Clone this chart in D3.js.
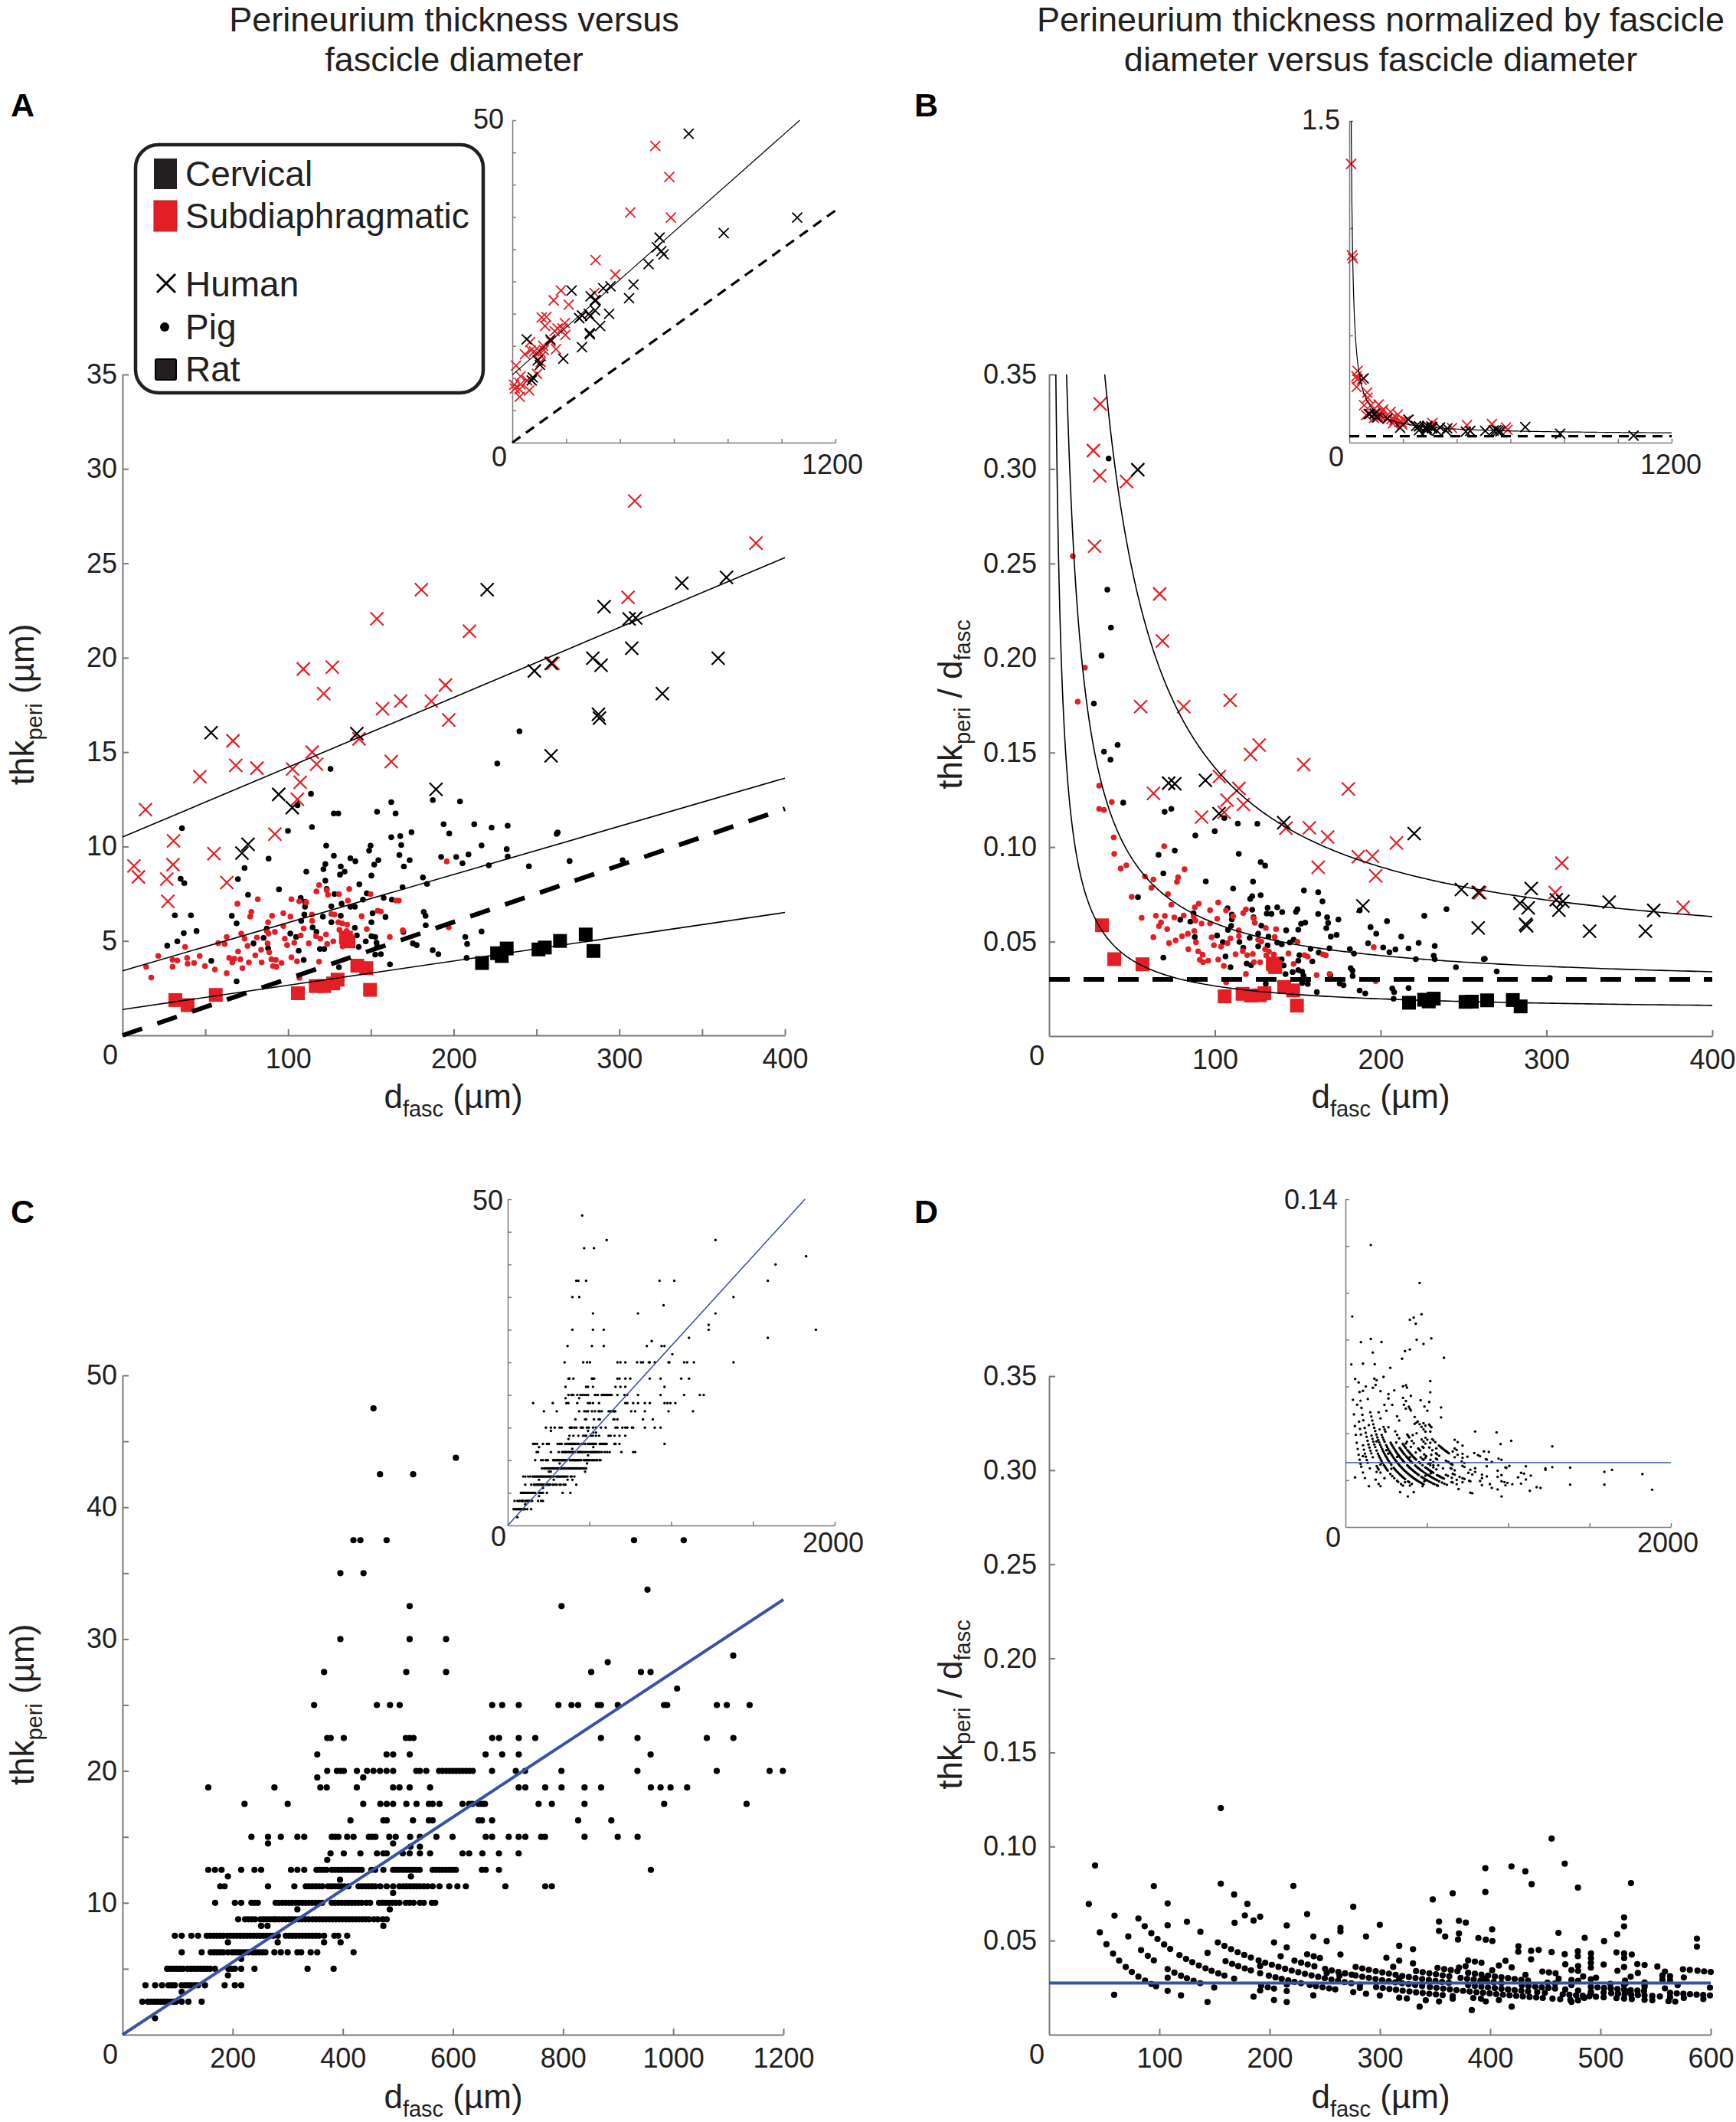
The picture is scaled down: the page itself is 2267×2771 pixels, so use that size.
<!DOCTYPE html>
<html><head><meta charset="utf-8">
<script src="https://cdn.jsdelivr.net/npm/d3@7"></script>
<style>body{margin:0;background:#fff}svg{display:block}</style>
</head><body>
<script>
// ---------------- DATA ----------------
// Panels A/B: [d_fasc (µm), thk_peri (µm)]
const humanSubdia = [[6.9,8.97],[9.6,8.39],[13.9,11.95],[26.7,8.27],[27.4,7.1],[30.5,9.04],[30.8,10.3],[46.7,13.7],[55.2,9.62],[63,8.09],[66.7,15.6],[68.4,14.3],[81.2,14.15],[92,10.66],[102.7,14.1],[105.6,12.5],[107.3,13.4],[109.2,19.4],[114.5,15.0],[117.2,14.36],[121.5,18.1],[126.7,19.5],[142.8,15.7],[153.6,22.06],[157,17.3],[162.3,14.5],[168,17.7],[180.5,23.6],[186.5,17.7],[195,18.55],[197,16.7],[209.5,21.4],[259.9,19.7],[305.3,23.2],[309.3,28.3],[382.5,26.07],[438,35.7],[531,46.0],[583,41.2],[589,34.9]];
const humanCerv = [[53.5,16.03],[72.1,9.65],[75.8,10.12],[94.3,12.76],[102.5,12.06],[141.5,15.98],[189.3,13.03],[220.2,23.6],[248.7,19.3],[258.9,19.7],[258.8,14.8],[284,19.97],[287.4,17.0],[288,16.8],[289,19.6],[290.8,22.7],[305.9,22.05],[307.5,20.5],[309.9,22.1],[326,18.1],[337.8,23.95],[359.7,19.97],[364.7,24.25],[433.6,22.4],[450,24.5],[506,27.7],[537,30.3],[547,31.8],[553.6,29.7],[562,29.2],[655,47.9],[785,32.5],[1058,34.9]];
const pigCerv = [[125.6,14.11],[113.8,12.79],[105.7,12.19],[127.6,11.75],[130.3,11.75],[114.4,11.03],[99.9,10.83],[35.9,10.97],[153.7,11.84],[162.3,12.35],[164.9,11.75],[187.4,12.46],[203.8,12.39],[193.9,11.18],[197.3,10.69],[212.4,11.18],[174.5,10.76],[167.7,10.55],[162.3,10.49],[168.3,10.08],[167.2,9.55],[173.4,9.28],[169.9,8.94],[192.4,9.45],[201.5,9.45],[208.9,9.58],[205.3,9.11],[149.8,10.05],[148.9,9.78],[154.5,9.28],[152,9.04],[150.3,8.46],[123,10.05],[127.6,9.51],[137.6,9.38],[140.6,9.22],[131.8,8.94],[134.1,8.67],[131.3,8.51],[122.5,9.07],[121.3,8.8],[111,8.67],[88.2,9.36],[73.7,8.86],[69.7,8.27],[35.1,8.29],[37.3,8.06],[122.5,8.19],[143,8.0],[123.3,7.75],[128,7.48],[147.5,7.52],[145.2,7.19],[157.7,7.28],[162.6,7.19],[169.1,7.85],[181.4,8.36],[183.9,8.02],[94.5,7.73],[75.8,7.44],[110.2,7.08],[107.6,7.28],[110.2,6.81],[109.8,6.4],[107.9,6.06],[126.1,6.83],[132.3,6.97],[137.6,6.81],[140.3,6.81],[131.8,6.33],[126.1,5.99],[121,6.29],[114.8,5.72],[117.1,5.48],[121.8,4.57],[119.2,4.57],[140.3,5.7],[141.5,5.29],[142.6,4.68],[146.9,4.98],[150.3,5.99],[151,6.47],[158.8,6.27],[150.3,5.25],[152.6,5.21],[153.4,4.91],[153.8,4.71],[152.6,4.28],[156,4.3],[161.5,3.76],[169.6,5.48],[175.3,4.87],[177.6,4.78],[183,6.33],[181.9,6.54],[183.1,5.83],[187.3,4.51],[190.7,4.3],[207,5.21],[208.1,4.84],[207.8,4.1],[130.7,3.61],[109.4,3.99],[106.4,4.48],[104.8,5.21],[101.3,5.39],[87.1,5.66],[85.2,5.16],[87.9,4.61],[79.1,4.87],[68.9,5.93],[66,6.33],[68.9,2.86],[53.6,3.94],[44.7,5.52],[41.3,6.36],[31.6,6.36],[37,5.41],[33.1,4.98],[27,4.75],[239.7,16.1],[226.3,14.4],[222.9,11.0],[232.6,11.1],[262.2,10.67],[262.8,10.75],[216.8,10.06],[232,9.86],[232.6,9.47],[221.2,9.0],[245.4,8.95],[270,9.23],[302,9.28],[216.8,5.5]];
const pigSubdia = [[14.3,3.63],[17.3,3.06],[21.6,4.21],[30.2,4.0],[30.2,3.63],[33.1,3.96],[37.8,4.68],[39,4.1],[39.3,3.79],[43.2,3.83],[46.6,4.21],[49.8,3.67],[55.8,3.49],[57.8,4.88],[61.7,4.84],[62.9,5.21],[62.9,3.29],[64.4,4.1],[66.3,3.86],[67.5,4.06],[69.8,4.44],[71.2,4.03],[72.4,3.56],[69.4,6.97],[77.1,6.29],[77.8,6.54],[81.7,7.21],[71.7,5.39],[73.7,5.12],[75.5,4.74],[76.3,3.86],[81.2,5.18],[80.2,4.24],[84,3.86],[83.7,4.53],[87.2,5.52],[87.9,5.99],[90.3,6.33],[88.2,5.39],[92,5.48],[87.6,4.87],[88.6,4.4],[89.9,4.03],[92.6,3.99],[92.9,3.63],[96,3.83],[97.1,6.47],[101.4,6.29],[97.1,5.79],[98,5.12],[99.4,4.78],[102,4.13],[105.4,3.92],[102,7.21],[106.7,7.1],[111,7.04],[114.4,6.4],[109.4,5.66],[107.6,5.29],[103.7,4.91],[112.5,4.87],[117.1,7.62],[118.7,7.96],[123.3,7.69],[124.1,7.44],[130.7,7.48],[136.9,7.75],[136.1,7.14],[126.1,6.43],[128,6.4],[114.5,6.06],[116.8,5.25],[119.5,5.12],[122.9,5.34],[123.6,4.84],[127.3,4.98],[130.3,5.99],[132.6,5.93],[135.6,5.86],[131,5.59],[135.3,5.52],[132.9,4.71],[118.7,3.9],[106.8,3.04],[144.4,6.31],[147.5,5.63],[149.8,7.48],[154.1,6.6],[156,6.56],[165.2,7.14],[166.9,7.14],[161.4,5.21],[169.2,5.56],[195.8,9.21],[197,5.72],[90.9,3.67]];
const ratCerv = [[217.1,3.83],[226.2,4.35],[229,4.2],[232,4.6],[251.2,4.55],[255,4.65],[264.2,5.0],[279.7,5.34],[284.4,4.47]];
const ratSubdia = [[31.9,1.87],[39.3,1.6],[56.3,2.14],[105.9,2.23],[116.7,2.61],[121.8,2.61],[127.2,2.75],[129.9,2.95],[134.9,5.18],[136.4,4.98],[141.8,3.69],[147.2,3.56],[149.5,2.41]];
// linear fits thk = intercept + slope*d  (human, pig, rat); dashed reference thk = refSlope*d
const fitIntercept = [10.5, 3.42, 1.37];
const fitSlope = [0.037, 0.0255, 0.01284];
const refSlope = 0.03;

// Panels C/D: thk_peri levels (µm) and fascicle diameters (µm) at each level
const cLevels = [1.25,2.5,3.25,3.75,4.5,5,5.75,6.25,7,7.5,8.25,8.75,9.5,10,10.75,11.25,11.75,12,12.5,13.25,13.75,14.25,14.5,15,16.25,17.5,18.75,19.5,20,21.25,22.5,25,26.25,27.5,28.25,28.75,30,30.75,32.5,33.75,35,37.5,40,41.25,42.5,43.75,47.5];
const cDiam = [
[59],
[36,46,52,58,63.5,69.5,75,81,87,92.7,97,107.5,119.6,143.7],
[107.5],
[41.7,59.3,71.8,83.4,89.5,95,107.5,113.6,119.6,125,131,137,149.7,185.4,204,215.5],
[191.4],
[81,86.7,92.7,98.3,104.3,109.8,118.2,124.2,129.8,135.8,141.8,147.4,153.4,159,167.8,192.3,198.3,204,215.5,239.6,336,383.3],
[215.5],
[107.5,143.7,160,166,171.5,177.5,183,191.4,199.3,205.3,210.9,216.9,222.5,228.5,236.4,242,248,254,259.5,275.8,287.4,299.9,317.5,324.4,341.6,353.6,419.5],
[191.4,281.8,366,396],
[95,107.5,125,137.2,153,159,165,171,177,183,190,196,202,208,214,220,226,232,238,244,250,256,262,268,274,282,296.6,302.6,308.6,314.6,320.6,326.8,332.8,338.8,344.8,350.8,356.9,366,384.7,391.6,407.9],
[251.7,263.3,473.7],
[210,222.5,228.5,234.5,240.6,250.3,256.3,262.3,268.4,274.4,278,284,290,296,302,308,314,320,326,332,338.3,345.3,351.3,357.4,363.4,369.4,375.4,381.4,387.5,393.5,399.5,405.5,411.6,417.6,423.6,429.6,435.7,441.7,447.7,456.5,463.5,472.7,479.7],
[317.5,485.3],
[168.2,204,215.5,234,240,245.6,278,284,290,296.2,302.2,308.2,314.2,320.3,326.3,332.3,338.3,344.4,350.4,356.4,362.5,380,386,392,398,404.2,410.2,416.2,422.2,428.2,434.3,442.6,449.6,465.8,471.8,477.9,483.9,489.9,495.9,502.9,514.5,521.4,528.4,540,547,561.7,567.8],
[491.3],
[177.5,185.4,264.2,312,332.8,338.8,344.8,350.8,356.9,362.9,373.1,379.1,385.1,391.2,397.2,403.2,410.2,428.7,434.7,440.8,446.8,452.8,458.8,468.1,479.7,491.3,502.9,509.8,515.9,521.9,527.9,533.9,540,547,553.9,563.1,575.6,593.3,608.1,623.4,695.2,767.5,779.6],
[394.9],
[191.4,523.7],
[155.7,167.8,179.8,215.5,239.6,251.7,305.9,317.5,330,352.2,358.3,364.3,370.3,380,386.1,392.1,398.1,404.2,410.2,416.2,422.2,428.2,434.3,451.9,458.8,473.7,491.3,497.3,503.3,509.4,515.4,521.4,527.4,533.5,539.5,563.1,569.2,575.2,581.2,587.2,593.2,599.3,605.3,652.6,659.5,683.6,959.4],
[371.7],
[377.7,401.8,432,462.1,473.7,479.7,508.9,521.4,540,558.5,617.4,629.4,653.5,683.6,719.3],
[522.8,540],
[264.2,491.3],
[234,264.2,287.4,317.5,330,380,386.1,392.1,407.9,419.5,447.3,453.3,459.3,484.3,496,522.3,540,570,599.3,659.5,671.1,701.3,719.3,731.4,760.1,767.1,838.9,899.2,935.3],
[413.9,473.7,479.7,527.4,556.2,563.1,646.6,652.6,671.1,827.3,887.6],
[221.5,299.9,437.1,468.1,479.7,491.3,515.4,533.9,556.2,563.1,575.6,617.4,629.4,635,646.6,652.6,658.1,755.5,779.6,838.9,983.5,1133.2],
[155.7,275.8,359.2,370.8,425.5,491.3,502.9,521.4,558.5,719.3,731.4,767.5,797.2,838.9,869,959.4,977,995.1,1025.2],
[353.6,437.1],
[371.7,389.3,396,402,425.6,444,455.7,467.6,479.5,491.4,533.4,540,551.6,574.8,581,588,594,600,606,612,618,624,630,636,671,714,731,797,935,1079,1175,1199],
[353.6,479.5,491.4,521.5,659.3,689.4,719.5,958.9],
[371.7,377.9,401.8,514.5,521.4,528.4,671.3,683.7,719.5,749.5,868.7,935.1,1061,1109.2],
[347.9,461.9,485.7,503.3,671.3,689.4,719.5,791.5,815.3,827.3,863,868.7,899.3,983.3,989,1079.2,1097.3,1138.7,1381],
[1007],
[366,515.2,587.5,851,941.3,958.8],
[881],
[1109,1591],
[395.6,521.4,587.5,1229,1885],
[1229],
[521.4,797.1,1271],
[953.2],
[395.6,437.6,1381],
[419.3,431.9,479.6,928.8,1019,1591],
[1638],
[1825],
[467.6,527.7],
[605.3,1271],
[455.7]
];
const blueSlope = 0.0275;   // thk_peri = 0.0275 * d_fasc

// tick values and labels
const aXTicks=[50,100,150,200,250,300,350,400], aXLabels=[100,200,300,400];
const aYTicks=[5,10,15,20,25,30,35], aYLabels=[5,10,15,20,25,30,35];
const bXTicks=[100,200,300,400], bXLabels=[100,200,300,400];
const bYTicks=[0.05,0.1,0.15,0.2,0.25,0.3,0.35], bYLabels=bYTicks;
const cXTicks=[200,400,600,800,1000,1200], cXLabels=cXTicks;
const cYTicks=[5,10,15,20,25,30,35,40,45,50], cYLabels=[10,20,30,40,50];
const dXTicks=[100,200,300,400,500,600], dXLabels=dXTicks;
const dYTicks=bYTicks, dYLabels=bYTicks;
const aiXTicks=[200,400,600,800,1000,1200], aiYTicks=[5,10,15,20,25,30,35,40,45,50];
const biXTicks=[200,400,600,800,1000,1200], biYTicks=[0.5,1,1.5];
const ciXTicks=[500,1000,1500,2000], ciYTicks=[5,10,15,20,25,30,35,40,45,50];
const diXTicks=[500,1000,1500,2000], diYTicks=[0.02,0.04,0.06,0.08,0.1,0.12,0.14];
const insetLabels = {A:["50","0","1200"],B:["1.5","0","1200"],C:["50","0","2000"],D:["0.14","0","2000"]};

// ---------------- DRAW ----------------
const FONT="'Liberation Sans', Arial, Helvetica, sans-serif";
const RED="#e31e24", BLK="#000", AXC="#7a7a7a", BLUE="#3953a4";
const W=2267,H=2771;
const svg=d3.select("body").append("svg").attr("width",W).attr("height",H);
svg.append("rect").attr("width",W).attr("height",H).attr("fill","#fff");

const xA=d3.scaleLinear([0,400],[160,1025]),  yA=d3.scaleLinear([0,35],[1352,489]);
const xAi=d3.scaleLinear([0,1200],[669,1091]), yAi=d3.scaleLinear([0,50],[578,157]);
const xB=d3.scaleLinear([0,400],[1370,2236]), yB=d3.scaleLinear([0,0.35],[1353,489]);
const xBi=d3.scaleLinear([0,1200],[1762,2183]), yBi=d3.scaleLinear([0,1.5],[578,158]);
const xC=d3.scaleLinear([0,1200],[160,1023]), yC=d3.scaleLinear([0,50],[2657,1796]);
const xCi=d3.scaleLinear([0,2000],[663,1090]), yCi=d3.scaleLinear([0,50],[1992,1566]);
const xD=d3.scaleLinear([0,600],[1370,2234]), yD=d3.scaleLinear([0,0.35],[2657,1797]);
const xDi=d3.scaleLinear([0,2000],[1757,2182]), yDi=d3.scaleLinear([0,0.14],[1994,1566]);

function has(arr,v){return arr.some(a=>Math.abs(a-v)<1e-9);}
function axes(xs,ys,o){
  const g=svg.append("g");
  const ax=d3.axisBottom(xs).tickValues(o.xt).tickSizeInner(-o.tl).tickSizeOuter(0).tickPadding(o.xp||17)
    .tickFormat(v=>o.xl&&has(o.xl,v)?o.xf(v):"");
  const ay=d3.axisLeft(ys).tickValues(o.yt).tickSizeInner(-o.tl).tickSizeOuter(0).tickPadding(o.yp||7)
    .tickFormat(v=>o.yl&&has(o.yl,v)?o.yf(v):"");
  const gx=g.append("g").attr("transform",`translate(0,${ys(0)})`).call(ax);
  const gy=g.append("g").attr("transform",`translate(${xs(0)},0)`).call(ay);
  [gx,gy].forEach(s=>s.attr("font-family",FONT).attr("font-size",36));
  g.selectAll(".domain").attr("stroke",AXC).attr("stroke-width",o.sw||2);
  g.selectAll(".tick line").attr("stroke",AXC).attr("stroke-width",o.sw||2);
  g.selectAll(".tick text").attr("fill","#231f20");
  if(o.origin){
    svg.append("text").attr("x",xs(0)-6).attr("y",ys(0)+38).attr("text-anchor","end")
      .attr("font-family",FONT).attr("font-size",36).attr("fill","#231f20").text("0");
  }
}
function txt(x,y,s,o={}){
  return svg.append("text").attr("x",x).attr("y",y).attr("font-family",FONT)
    .attr("font-size",o.fs||36).attr("text-anchor",o.anchor||"start")
    .attr("font-weight",o.bold?"bold":"normal").attr("fill",o.fill||"#231f20").text(s);
}
function rich(x,y,parts,rot){
  const t=svg.append("text").attr("font-family",FONT).attr("font-size",44).attr("fill","#231f20")
    .attr("text-anchor","middle")
    .attr("transform",rot?`translate(${x},${y}) rotate(-90)`:`translate(${x},${y})`);
  let sub=false;
  parts.forEach(p=>{
    const isSub=p[1]===1;
    const ts=t.append("tspan").text(p[0]);
    if(isSub&&!sub){ts.attr("dy",11).attr("font-size",29);}
    else if(!isSub&&sub){ts.attr("dy",-11);}
    else if(isSub){ts.attr("font-size",29);}
    sub=isSub;
  });
  return t;
}
const crossPath=s=>`M${-s},${-s}L${s},${s}M${-s},${s}L${s},${-s}`;
function crosses(pts,xs,ys,color,s,sw){
  svg.append("g").selectAll("path").data(pts).join("path")
    .attr("d",crossPath(s)).attr("transform",p=>`translate(${xs(p[0])},${ys(p[1])})`)
    .attr("stroke",color).attr("stroke-width",sw).attr("fill","none");
}
function dots(pts,xs,ys,color,r){
  svg.append("g").selectAll("circle").data(pts).join("circle")
    .attr("cx",p=>xs(p[0])).attr("cy",p=>ys(p[1])).attr("r",r).attr("fill",color);
}
function squares(pts,xs,ys,color,s){
  svg.append("g").selectAll("rect").data(pts).join("rect")
    .attr("x",p=>xs(p[0])-s/2).attr("y",p=>ys(p[1])-s/2).attr("width",s).attr("height",s).attr("fill",color);
}
function pathLine(pts,xs,ys,stroke,sw,dash){
  const l=d3.line().x(p=>xs(p[0])).y(p=>ys(p[1]));
  const p=svg.append("path").attr("d",l(pts)).attr("fill","none").attr("stroke",stroke).attr("stroke-width",sw);
  if(dash)p.attr("stroke-dasharray",dash);
  return p;
}
const ratio=pts=>pts.map(p=>[p[0],p[1]/p[0]]);
const within=(pts,xmax,ymax)=>pts.filter(p=>p[0]<=xmax&&p[1]<=ymax);
function hyper(a,b,ymax,xmax){
  const d0=a/(ymax-b), out=[];
  for(let i=0;i<=400;i++){const d=d0*Math.pow(xmax/d0,i/400); out.push([d,a/d+b]);}
  return out;
}

// ---------- Titles ----------
txt(593,41,"Perineurium thickness versus",{fs:45,anchor:"middle"});
txt(593,93,"fascicle diameter",{fs:45,anchor:"middle"});
txt(1803,41,"Perineurium thickness normalized by fascicle",{fs:45,anchor:"middle"});
txt(1803,93,"diameter versus fascicle diameter",{fs:45,anchor:"middle"});
txt(14,152,"A",{fs:43,bold:true,fill:"#000"});
txt(1194,152,"B",{fs:43,bold:true,fill:"#000"});
txt(14,1597,"C",{fs:43,bold:true,fill:"#000"});
txt(1194,1597,"D",{fs:43,bold:true,fill:"#000"});

// ---------- Panel A ----------
axes(xA,yA,{xt:aXTicks,xl:aXLabels,xf:d3.format("d"),yt:aYTicks,yl:aYLabels,yf:d3.format("d"),tl:8,yp:7,origin:true});
dots(pigCerv,xA,yA,BLK,3.8);
dots(pigSubdia,xA,yA,RED,3.8);
squares(ratSubdia,xA,yA,RED,18);
squares(ratCerv,xA,yA,BLK,18);
crosses(within(humanSubdia,400,35),xA,yA,RED,8.5,2.2);
crosses(within(humanCerv,400,35),xA,yA,BLK,8.5,2.2);
fitIntercept.forEach((a,i)=>pathLine([[0,a],[400,a+400*fitSlope[i]]],xA,yA,"#000",1.6));
pathLine([[0,0],[400,400*refSlope]],xA,yA,"#000",6,"27,21");
rich(592,1447,[["d",0],["fasc",1],[" (µm)",0]]);
rich(44,920,[["thk",0],["peri",1],[" (µm)",0]],true);

// Panel A inset
axes(xAi,yAi,{xt:aiXTicks,yt:aiYTicks,tl:5,sw:1.5});
crosses(humanSubdia,xAi,yAi,RED,6.5,1.8);
crosses(humanCerv,xAi,yAi,BLK,6.5,1.8);
pathLine([[0,fitIntercept[0]],[(50-fitIntercept[0])/fitSlope[0],50]],xAi,yAi,"#000",1.2);
pathLine([[0,0],[1200,1200*refSlope]],xAi,yAi,"#000",3.2,"13,9");
txt(xAi(0)-11,yAi(50)+11,insetLabels.A[0],{anchor:"end"});
txt(xAi(0)-7,yAi(0)+31,insetLabels.A[1],{anchor:"end"});
txt(xAi(1200)-4,yAi(0)+41,insetLabels.A[2],{anchor:"middle"});

// Legend
svg.append("rect").attr("x",177).attr("y",189).attr("width",454).attr("height",324).attr("rx",30)
  .attr("fill","#fff").attr("stroke","#231f20").attr("stroke-width",4.5);
svg.append("rect").attr("x",201).attr("y",207).attr("width",30).attr("height",40).attr("fill","#231f20");
svg.append("rect").attr("x",201).attr("y",262).attr("width",30).attr("height",40).attr("fill",RED).attr("stroke","#b71c1c").attr("stroke-width",1);
svg.append("path").attr("d",crossPath(12)).attr("transform","translate(217,370)").attr("stroke","#000").attr("stroke-width",3).attr("fill","none");
svg.append("circle").attr("cx",215).attr("cy",427).attr("r",6).attr("fill","#000");
svg.append("rect").attr("x",203).attr("y",469).attr("width",27).attr("height",27).attr("fill","#231f20").attr("stroke","#000").attr("stroke-width",2).attr("rx",2);
[["Cervical",243],["Subdiaphragmatic",298],["Human",387],["Pig",443],["Rat",498]].forEach(r=>txt(242,r[1],r[0],{fs:46}));

// ---------- Panel B ----------
axes(xB,yB,{xt:bXTicks,xl:bXLabels,xf:d3.format("d"),yt:bYTicks,yl:bYLabels,yf:d3.format(".2f"),tl:8,yp:16,origin:true});
dots(within(ratio(pigCerv),400,0.35),xB,yB,BLK,3.8);
dots(within(ratio(pigSubdia),400,0.35),xB,yB,RED,3.8);
squares(within(ratio(ratSubdia),400,0.35),xB,yB,RED,18);
squares(within(ratio(ratCerv),400,0.35),xB,yB,BLK,18);
crosses(within(ratio(humanSubdia),400,0.35),xB,yB,RED,8.5,2.2);
crosses(within(ratio(humanCerv),400,0.35),xB,yB,BLK,8.5,2.2);
fitIntercept.forEach((a,i)=>pathLine(hyper(a,fitSlope[i],0.35,400),xB,yB,"#000",1.6));
pathLine([[0,refSlope],[400,refSlope]],xB,yB,"#000",6,"27,18");
rich(1803,1447,[["d",0],["fasc",1],[" (µm)",0]]);
rich(1256,920,[["thk",0],["peri",1],[" / d",0],["fasc",1]],true);

// Panel B inset
axes(xBi,yBi,{xt:biXTicks,yt:biYTicks,tl:5,sw:1.5});
crosses(within(ratio(humanSubdia),1200,1.5),xBi,yBi,RED,6.5,1.8);
crosses(within(ratio(humanCerv),1200,1.5),xBi,yBi,BLK,6.5,1.8);
pathLine(hyper(fitIntercept[0],fitSlope[0],1.5,1200),xBi,yBi,"#000",1.2);
pathLine([[0,refSlope],[1200,refSlope]],xBi,yBi,"#000",3.2,"13,9");
txt(xBi(0)-12,yBi(1.5)+11,insetLabels.B[0],{anchor:"end"});
txt(xBi(0)-7,yBi(0)+31,insetLabels.B[1],{anchor:"end"});
txt(xBi(1200)-1,yBi(0)+41,insetLabels.B[2],{anchor:"middle"});

// ---------- Panel C ----------
const cPts=[]; cLevels.forEach((t,i)=>cDiam[i].forEach(d=>cPts.push([d,t])));
axes(xC,yC,{xt:cXTicks,xl:cXLabels,xf:d3.format("d"),yt:cYTicks,yl:cYLabels,yf:d3.format("d"),tl:8,yp:7,origin:true});
dots(within(cPts,1200,50),xC,yC,BLK,4.1);
pathLine([[0,0],[1200,1200*blueSlope]],xC,yC,BLUE,4);
rich(592,2753,[["d",0],["fasc",1],[" (µm)",0]]);
rich(44,2226,[["thk",0],["peri",1],[" (µm)",0]],true);
// inset C
axes(xCi,yCi,{xt:ciXTicks,yt:ciYTicks,tl:5,sw:1.5});
dots(cPts,xCi,yCi,BLK,1.7);
pathLine([[0,0],[50/blueSlope,50]],xCi,yCi,BLUE,1.6);
txt(xCi(0)-6,yCi(50)+14,insetLabels.C[0],{anchor:"end"});
txt(xCi(0)-2,yCi(0)+27,insetLabels.C[1],{anchor:"end"});
txt(xCi(2000)-2,yCi(0)+35,insetLabels.C[2],{anchor:"middle"});

// ---------- Panel D ----------
const dPts=ratio(cPts);
axes(xD,yD,{xt:dXTicks,xl:dXLabels,xf:d3.format("d"),yt:dYTicks,yl:dYLabels,yf:d3.format(".2f"),tl:8,yp:16,origin:true});
dots(within(dPts,600,0.35),xD,yD,BLK,4.1);
pathLine([[0,blueSlope],[600,blueSlope]],xD,yD,BLUE,4);
rich(1803,2753,[["d",0],["fasc",1],[" (µm)",0]]);
rich(1256,2226,[["thk",0],["peri",1],[" / d",0],["fasc",1]],true);
// inset D
axes(xDi,yDi,{xt:diXTicks,yt:diYTicks,tl:5,sw:1.5});
dots(within(dPts,2000,0.14),xDi,yDi,BLK,1.7);
pathLine([[0,blueSlope],[2000,blueSlope]],xDi,yDi,BLUE,1.6);
txt(xDi(0)-10,yDi(0.14)+13,insetLabels.D[0],{anchor:"end"});
txt(xDi(0)-6,yDi(0)+26,insetLabels.D[1],{anchor:"end"});
txt(xDi(2000)-4,yDi(0)+33,insetLabels.D[2],{anchor:"middle"});
</script>
</body></html>
